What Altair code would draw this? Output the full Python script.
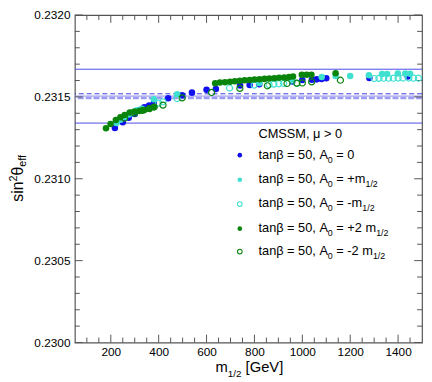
import altair as alt
import pandas as pd

FONT = "Liberation Sans"
AXC = "#555555"

# ---------------- data ----------------
# tanb = 50, A0 = 0  (blue, filled)
b_x = [217, 250, 275, 300, 320, 340, 360, 380, 440, 498, 539, 600, 639, 740, 780, 820,
       958, 1000, 1040, 1060, 1080, 1100, 1280, 1440]
b_y = [0.231310, 0.231345, 0.231372, 0.231395, 0.231420, 0.231436, 0.231448, 0.231462,
       0.231492, 0.231510, 0.231526, 0.231543, 0.231548, 0.231570, 0.231573, 0.231577,
       0.231594, 0.231603, 0.231605, 0.231607, 0.231610, 0.231614, 0.231616, 0.231624]

# tanb = 50, A0 = +m1/2 (turquoise, filled)
tf_x = [224, 240, 258, 275, 292, 310, 330, 380, 477, 821, 958, 1081, 1139, 1200, 1278,
        1333, 1354, 1399, 1430, 1450]
tf_y = [0.231340, 0.231360, 0.231378, 0.231393, 0.231408, 0.231418, 0.231428, 0.231486,
        0.231516, 0.231585, 0.231600, 0.231621, 0.231627, 0.231627, 0.231632,
        0.231640, 0.231640, 0.231643, 0.231643, 0.231641]

# tanb = 50, A0 = -m1/2 (turquoise, open)
to_x = [400, 418, 477, 696, 799, 861, 881, 902, 922, 977,
        1300, 1320, 1340, 1360, 1380, 1400, 1420, 1445, 1465, 1485]
to_y = [0.231462, 0.231470, 0.231490, 0.231554, 0.231572, 0.231574, 0.231578, 0.231580,
        0.231582, 0.231582,
        0.231612, 0.231613, 0.231614, 0.231614, 0.231614, 0.231615, 0.231615, 0.231615,
        0.231614, 0.231614]

# tanb = 50, A0 = +2 m1/2 (green, filled)
gf_x = [180, 199, 221, 240, 258, 279, 300, 320, 340, 361, 381,
        636, 656, 677, 698, 718, 739, 759, 780, 800, 821, 842, 862, 883, 903, 924, 944, 961,
        998, 1018, 1038, 1139]
gf_y = [0.231309, 0.231334, 0.231359, 0.231375, 0.231390, 0.231405, 0.231410, 0.231414,
        0.231420, 0.231428, 0.231438,
        0.231584, 0.231588, 0.231590, 0.231593, 0.231596, 0.231598, 0.231601, 0.231603,
        0.231606, 0.231608, 0.231610, 0.231612, 0.231614, 0.231617, 0.231619, 0.231621,
        0.231624, 0.231635, 0.231635, 0.231635, 0.231645]

# tanb = 50, A0 = -2 m1/2 (green, open)
go_x = [258, 299, 333, 361, 381, 418, 498, 621, 739, 854, 936, 977, 1000, 1039, 1159]
go_y = [0.231370, 0.231400, 0.231418, 0.231428, 0.231438, 0.231450, 0.231494, 0.231527,
        0.231552, 0.231568, 0.231582, 0.231584, 0.231585, 0.231592, 0.231602]

# horizontal reference lines
band_solid = [0.231669, 0.231340]
band_dash_dark = [0.231519]
band_mid = [0.231505]
band_dash_light = [0.231493]

# axis ticks
y_major = [0.2300, 0.2305, 0.2310, 0.2315, 0.2320]
y_minor = [round(0.2300 + 0.0001 * i, 4) for i in range(21) if i % 5 != 0]
x_major = [200, 400, 600, 800, 1000, 1200, 1400]
x_minor = [v for v in range(100, 1500, 50) if v % 200 != 0]

# ---------------- layout ----------------
W, H = 353, 333
xs = alt.Scale(domain=[50, 1500], nice=False, zero=False)
ys = alt.Scale(domain=[0.2300, 0.2320], nice=False, zero=False)

AX_X = alt.Axis(values=x_major, format="d", ticks=False, domain=False, grid=False,
                labelFontSize=12, labelFont=FONT, labelColor="black", labelPadding=4,
                labelFlush=False, labelOverlap=False, title=None)
AX_Y = alt.Axis(values=y_major, format=".4f", ticks=False, domain=False, grid=False,
                labelFontSize=12, labelFont=FONT, labelColor="black", labelPadding=5,
                labelFlush=False, labelOverlap=False, title=None)

BLUE = "#1010ee"
TURQ = "#40e0d0"
GREEN = "#0a840a"

def df(xv, yv):
    return pd.DataFrame({"x": xv, "y": yv})

def pts(xv, yv, color, filled):
    ex = alt.X("x:Q", scale=xs, axis=AX_X)
    ey = alt.Y("y:Q", scale=ys, axis=AX_Y)
    if filled:
        m = alt.Chart(df(xv, yv)).mark_point(shape="circle", filled=True, size=44,
                                              color=color, opacity=1)
    else:
        m = alt.Chart(df(xv, yv)).mark_point(shape="circle", filled=False, size=38,
                                              color=color, strokeWidth=1.2, opacity=1)
    return m.encode(x=ex, y=ey)

def hline(vals, color, width=1, dash=None):
    kw = dict(color=color, strokeWidth=width)
    if dash:
        kw["strokeDash"] = dash
    return alt.Chart(pd.DataFrame({"y": vals})).mark_rule(**kw).encode(
        y=alt.Y("y:Q", scale=ys, axis=AX_Y))

def yticks(vals, length, side):
    c = alt.Chart(pd.DataFrame({"y": vals})).mark_rule(color=AXC, strokeWidth=1)
    ey = alt.Y("y:Q", scale=ys, axis=AX_Y)
    if side == "left":
        return c.encode(y=ey, x=alt.value(0), x2=alt.value(length))
    return c.encode(y=ey, x=alt.value(W - length), x2=alt.value(W))

def xticks(vals, length, side):
    c = alt.Chart(pd.DataFrame({"x": vals})).mark_rule(color=AXC, strokeWidth=1)
    ex = alt.X("x:Q", scale=xs, axis=AX_X)
    if side == "bottom":
        return c.encode(x=ex, y=alt.value(H), y2=alt.value(H - length))
    return c.encode(x=ex, y=alt.value(0), y2=alt.value(length))

# character widths (Arial / Liberation Sans metrics, per 1000 em)
CW = {" ": 278, ",": 278, ".": 278, "/": 278, "=": 584, "+": 584, "-": 333, ">": 584,
      "[": 278, "]": 278, "A": 667, "C": 722, "M": 833, "S": 667, "G": 778, "V": 667,
      "a": 556, "e": 556, "f": 278, "i": 222, "m": 833, "n": 556, "s": 500, "t": 278,
      "β": 562, "μ": 576, "θ": 556}

def tw(s, size):
    return sum(CW.get(ch, 556) for ch in s) / 1000.0 * size

def rich(pieces, x0, y0, main, sub, sup_off, sub_off, angle=0):
    layers = []
    pos = 0.0
    for txt, kind in pieces:
        size = main if kind == "n" else sub
        off = 0 if kind == "n" else (-sup_off if kind == "sup" else sub_off)
        stripped = txt.lstrip(" ")
        pos += tw(txt[: len(txt) - len(stripped)], size)
        if angle == 0:
            px, py = x0 + pos, y0 + off
        else:
            px, py = x0 + off, y0 - pos
        kw = dict(text=stripped, align="left", baseline="alphabetic", fontSize=size,
                  font=FONT, color="black")
        if angle:
            kw["angle"] = angle
        layers.append(alt.Chart(pd.DataFrame({"a": [0]})).mark_text(**kw).encode(
            x=alt.value(px), y=alt.value(py)))
        pos += tw(stripped, size)
    return layers

texts = []
# y-axis title  sin^2 theta_eff (rotated)
YM, YS = 16, 11
yt = [("sin", "n"), ("2", "sup"), ("θ", "n"), ("eff", "sub")]
ylen = tw("sin", YM) + tw("2", YS) + tw("θ", YM) + tw("eff", YS)
texts += rich(yt, -53, 166 + ylen / 2, YM, YS, 6, 3, angle=270)
# x-axis title  m_1/2 [GeV]
texts += rich([("m", "n"), ("1/2", "sub"), (" [GeV]", "n")], 143, 363, 15, 10, 0, 5)

# legend
LX_M, LX_T = 167.7, 186.7
texts += rich([("CMSSM, μ > 0", "n")], LX_T, 125, 13, 9, 0, 4)
leg_rows = [
    ([("tanβ = 50, A", "n"), ("0", "sub"), (" = 0", "n")], BLUE, True),
    ([("tanβ = 50, A", "n"), ("0", "sub"), (" = +m", "n"), ("1/2", "sub")], TURQ, True),
    ([("tanβ = 50, A", "n"), ("0", "sub"), (" = -m", "n"), ("1/2", "sub")], TURQ, False),
    ([("tanβ = 50, A", "n"), ("0", "sub"), (" = +2 m", "n"), ("1/2", "sub")], GREEN, True),
    ([("tanβ = 50, A", "n"), ("0", "sub"), (" = -2 m", "n"), ("1/2", "sub")], GREEN, False),
]
leg_base = [146, 171, 195.7, 220.7, 244]
markers = []
for (pieces, col, filled), yb in zip(leg_rows, leg_base):
    texts += rich(pieces, LX_T, yb, 13, 9, 0, 4)
    mk = dict(shape="circle", filled=filled, size=22, color=col, opacity=1)
    if not filled:
        mk["strokeWidth"] = 1.1
    markers.append(alt.Chart(pd.DataFrame({"a": [0]})).mark_point(**mk).encode(
        x=alt.value(LX_M), y=alt.value(yb - 3.5)))

layers = [
    hline(band_solid, "#4a4ae6", 1),
    hline(band_dash_light, "#9c9cf2", 2.5, [6, 2]),
    hline(band_mid, "#8c8cee", 1),
    hline(band_dash_dark, "#3838e0", 1, [5, 3]),
    yticks(y_major, 8, "left"), yticks(y_minor, 5, "left"),
    yticks(y_major, 8, "right"), yticks(y_minor, 5, "right"),
    xticks(x_major, 8, "bottom"), xticks(x_minor, 5, "bottom"),
    xticks(x_major, 8, "top"), xticks(x_minor, 5, "top"),
    pts(b_x, b_y, BLUE, True),
    pts(tf_x, tf_y, TURQ, True),
    pts(to_x, to_y, TURQ, False),
    pts(gf_x, gf_y, GREEN, True),
    pts(go_x, go_y, GREEN, False),
] + markers + texts

chart = alt.layer(*layers).properties(
    width=W, height=H,
    autosize=alt.AutoSizeParams(type="none"),
    padding={"left": 68, "top": 4, "right": 2, "bottom": 36},
).configure_view(stroke=AXC, strokeWidth=1.2)

chart.save("out.html", embed_options={"renderer": "svg", "actions": False})
